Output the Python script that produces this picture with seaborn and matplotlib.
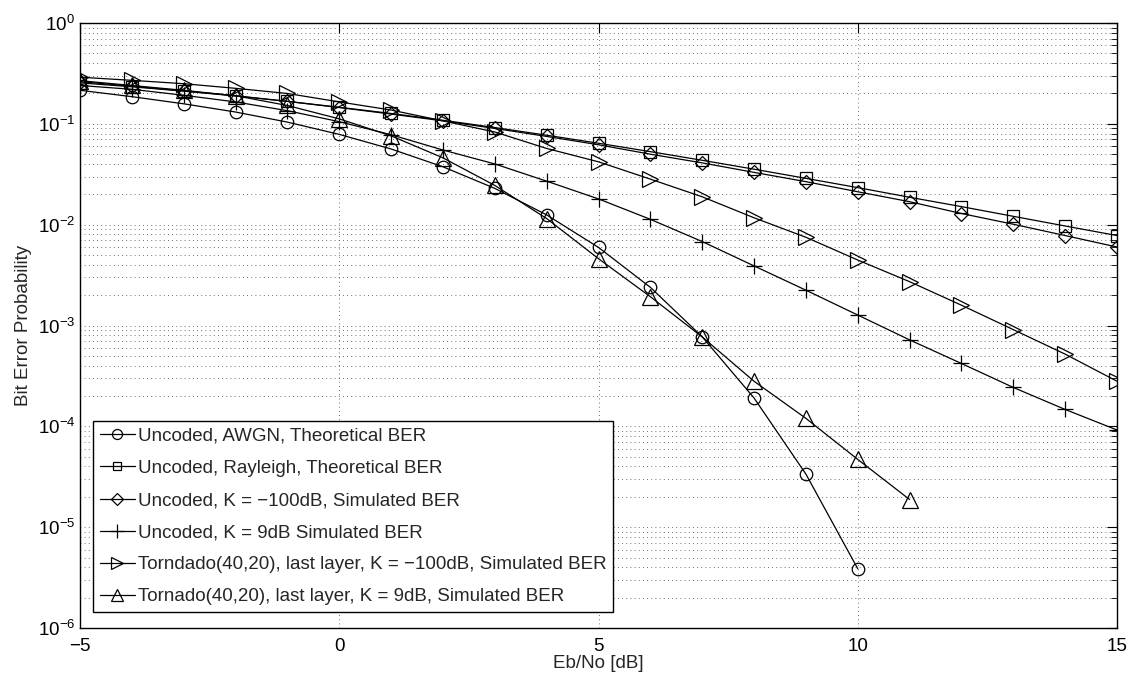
import numpy as np
import pandas as pd
import matplotlib
matplotlib.use("Agg")
import matplotlib.pyplot as plt
import seaborn as sns
from matplotlib.ticker import LogLocator, FixedLocator, NullFormatter

ebno = [-5, -4, -3, -2, -1, 0, 1, 2, 3, 4, 5, 6, 7, 8, 9, 10, 11, 12, 13, 14, 15]

ber_awgn_theory = [0.215, 0.186, 0.158, 0.131, 0.104, 0.0786, 0.0563, 0.0375, 0.0229,
                   0.0125, 0.00595, 0.00239, 0.000773, 0.000191, 3.36e-5, 3.87e-6]
ber_rayleigh_theory = [0.255, 0.233, 0.211, 0.189, 0.167, 0.146, 0.1267, 0.1085, 0.0919,
                       0.0771, 0.0642, 0.053, 0.0435, 0.0355, 0.0288, 0.0233, 0.0187,
                       0.0151, 0.0121, 0.0097, 0.0078]
ber_k_m100_sim = [0.262, 0.236, 0.212, 0.19, 0.167, 0.145, 0.125, 0.107, 0.09, 0.075,
                  0.062, 0.05, 0.041, 0.033, 0.0267, 0.0212, 0.0169, 0.0129, 0.0101,
                  0.0078, 0.006]
ber_k_9_sim = [0.24, 0.22, 0.192, 0.165, 0.135, 0.105, 0.078, 0.055, 0.04, 0.027, 0.018,
               0.0113, 0.0068, 0.0039, 0.00224, 0.00127, 0.00072, 0.00042, 0.000243,
               0.000147, 9.2e-5]
ber_tornado_k_m100 = [0.29, 0.27, 0.25, 0.225, 0.2, 0.165, 0.137, 0.107, 0.083, 0.057,
                      0.042, 0.0283, 0.0189, 0.0117, 0.0075, 0.00446, 0.00272, 0.00159,
                      0.00091, 0.00052, 0.00028]
ber_tornado_k_9 = [0.268, 0.24, 0.215, 0.19, 0.152, 0.112, 0.076, 0.046, 0.0245, 0.0115,
                   0.0046, 0.00193, 0.00077, 0.00028, 0.00012, 4.7e-5, 1.88e-5]

series_labels = [
    "Uncoded, AWGN, Theoretical BER",
    "Uncoded, Rayleigh, Theoretical BER",
    "Uncoded, K = \u2212100dB, Simulated BER",
    "Uncoded, K = 9dB Simulated BER",
    "Torndado(40,20), last layer, K = \u2212100dB, Simulated BER",
    "Tornado(40,20), last layer, K = 9dB, Simulated BER",
]
series_values = [ber_awgn_theory, ber_rayleigh_theory, ber_k_m100_sim,
                 ber_k_9_sim, ber_tornado_k_m100, ber_tornado_k_9]
series_markers = ["o", "s", "D", "+", ">", "^"]
marker_sizes = [9, 8, 7.5, 12, 11, 11]

x_ticks = [-5, 0, 5, 10, 15]

sns.set_theme(style="white")
plt.rcParams["font.family"] = ["Liberation Sans", "DejaVu Sans"]
plt.rcParams["mathtext.fontset"] = "custom"
plt.rcParams["mathtext.rm"] = "Liberation Sans"
plt.rcParams["mathtext.default"] = "regular"

fig = plt.figure(figsize=(11.34, 6.79), dpi=100)
ax = fig.add_axes([80 / 1134, 1 - 628 / 679, 1037 / 1134, 605 / 679])

for label, vals, mk, ms in zip(series_labels, series_values, series_markers, marker_sizes):
    df = pd.DataFrame({"x": ebno[:len(vals)], "y": vals})
    sns.lineplot(data=df, x="x", y="y", ax=ax, color="black", linewidth=0.9,
                 marker=mk, markersize=ms, markerfacecolor="none",
                 markeredgecolor="black", markeredgewidth=0.9,
                 estimator=None, label=label)

ax.set_yscale("log")
ax.set_xlim(-5, 15)
ax.set_ylim(1e-6, 1)
ax.xaxis.set_major_locator(FixedLocator(x_ticks))
ax.yaxis.set_major_locator(LogLocator(base=10, numticks=10))
ax.yaxis.set_minor_locator(LogLocator(base=10, subs=np.arange(2, 10), numticks=20))
ax.yaxis.set_minor_formatter(NullFormatter())

grid_kw = dict(color="#404040", linestyle=(0, (1, 4)), linewidth=0.6)
ax.grid(True, which="major", axis="both", **grid_kw)
ax.grid(True, which="minor", axis="y", **grid_kw)

ax.tick_params(which="both", direction="in", top=True, right=True,
               labelsize=13.5, colors="black")
ax.tick_params(which="major", length=7, width=0.8)
ax.tick_params(which="minor", length=4, width=0.6)
ax.tick_params(axis="x", pad=7)
for sp in ax.spines.values():
    sp.set_color("black")
    sp.set_linewidth(1.0)

ax.set_xlabel("Eb/No [dB]", fontsize=13.5, labelpad=0)
ax.set_ylabel("Bit Error Probability", fontsize=13.5, labelpad=4)

leg = ax.legend(loc="lower left", bbox_to_anchor=(13 / 1037, 16 / 605),
                borderaxespad=0, fontsize=13.5, frameon=True, fancybox=False,
                edgecolor="black", framealpha=1, handlelength=1.9,
                handletextpad=0.15, labelspacing=0.8, borderpad=0.35)
leg.get_frame().set_linewidth(1.0)
for h in leg.legend_handles:
    h.set_markersize(h.get_markersize() * 0.8)

fig.savefig("out.png", dpi=100)
